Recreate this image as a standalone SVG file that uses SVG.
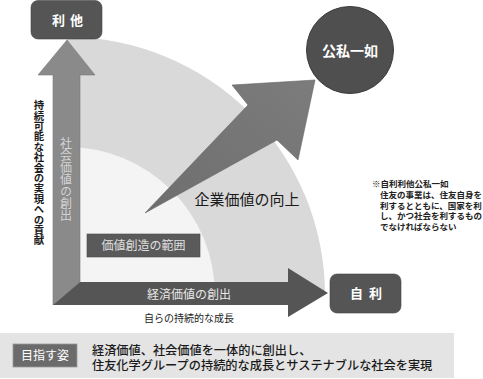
<svg xmlns="http://www.w3.org/2000/svg" width="483" height="379" viewBox="0 0 483 379">
<defs>
<linearGradient id="gDiag" x1="0" y1="1" x2="1" y2="0">
<stop offset="0" stop-color="#6e6e6e"/>
<stop offset="1" stop-color="#7c7c7c"/>
</linearGradient>
</defs>
<style>
text{font-family:"Noto Sans CJK JP","Noto Sans",sans-serif}
.wb{fill:#fff;font-weight:bold}
.dk{fill:#1a1a1a}
.note{font-size:8.5px;fill:#222;font-weight:bold}
.vt{writing-mode:vertical-rl;text-orientation:upright}
</style>
<rect width="483" height="379" fill="#fff"/>
<g id="range">
<path d="M67,295 L67,37 A258,258 0 0 1 325,295 Z" fill="#d9d9d9"/>
<path d="M67,295 L67,147 A148,148 0 0 1 215,295 Z" fill="#f4f4f4"/>
</g>
<g id="connectors">
<path id="axis-social" d="M67,40 L95,75 L80,75 L80,282 L53,305 L53,75 L38,75 Z" fill="#8a8a8a" stroke="#7a7a7a" stroke-width="0.6"/>
<path id="axis-economic" d="M53,305 L80,282 L288,282 L288,268 L328,293 L288,317 L288,305 Z" fill="#555"/>
<path id="arrow-corporate" d="M145,213 L248,105 L232,85 L315,80 L298,160 L277,140 Z" fill="url(#gDiag)" stroke="#666" stroke-width="0.6"/>
</g>
<g id="node-rita">
<rect x="31" y="0.5" width="71" height="38.5" rx="7" fill="#555" stroke="#444" stroke-width="0.6"/>
<text x="52" y="25" class="wb" font-size="13" letter-spacing="5">利他</text>
</g>
<g id="node-jiri">
<rect x="330" y="274" width="71" height="39" rx="7" fill="#555" stroke="#444" stroke-width="0.6"/>
<text x="350" y="298" class="wb" font-size="13" letter-spacing="6">自利</text>
</g>
<g id="node-koshi">
<circle cx="350" cy="50" r="43.5" fill="#4f4f4f" stroke="#3a3a3a" stroke-width="1"/>
<text x="350" y="56" class="wb" font-size="14" text-anchor="middle">公私一如</text>
</g>
<g id="node-range-label">
<rect x="87" y="234" width="113" height="23" fill="#5a5a5a" stroke="#4a4a4a" stroke-width="0.6"/>
<text x="143.5" y="250" fill="#e0e0e0" font-size="12" text-anchor="middle">価値創造の範囲</text>
</g>
<g id="labels">
<text x="66" y="137" class="vt" fill="#d4d4d4" font-size="12">社会価値の創出</text>
<text x="39" y="100" class="vt dk" font-size="10.4" font-weight="bold">持続可能な社会の実現への貢献</text>
<text x="189" y="299" fill="#e8e8e8" font-size="12" text-anchor="middle">経済価値の創出</text>
<text x="189" y="321.5" class="dk" font-size="10" text-anchor="middle">自らの持続的な成長</text>
<text x="247" y="205" class="dk" font-size="15" text-anchor="middle">企業価値の向上</text>
</g>
<g id="note">
<text x="372" y="187" class="note">※自利利他公私一如</text>
<text x="380" y="198" class="note">住友の事業は、住友自身を</text>
<text x="380" y="208.5" class="note">利するとともに、国家を利</text>
<text x="380" y="219" class="note">し、かつ社会を利するもの</text>
<text x="380" y="229.5" class="note">でなければならない</text>
</g>
<g id="goal">
<rect x="0" y="333" width="454" height="45" fill="#e4e4e4"/>
<rect x="13" y="344" width="64" height="23" fill="#6b6b6b" stroke="#9a9a9a" stroke-width="0.8"/>
<text x="45" y="360" fill="#fff" font-size="12" text-anchor="middle">目指す姿</text>
<text x="92" y="355" class="dk" font-size="12.2" font-weight="500">経済価値、社会価値を一体的に創出し、</text>
<text x="92" y="369.5" class="dk" font-size="12.2" font-weight="500">住友化学グループの持続的な成長とサステナブルな社会を実現</text>
</g>
</svg>
